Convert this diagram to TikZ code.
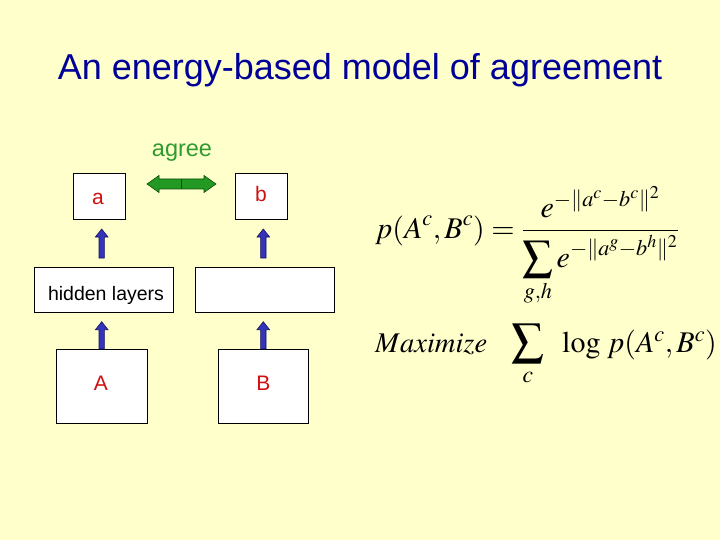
\documentclass[tikz,border=0pt]{standalone}
\usepackage{mathptmx}
\usepackage[no-math]{fontspec}
\setmainfont{Liberation Sans}
\definecolor{bg}{HTML}{FFFFCC}
\definecolor{titleblue}{HTML}{000099}
\definecolor{agreegreen}{HTML}{2E9B2E}
\definecolor{arrgreen}{HTML}{229922}
\definecolor{arrgreenline}{HTML}{0B4D0B}
\definecolor{arrblue}{HTML}{3333BB}
\definecolor{arrblueline}{HTML}{12125E}
\definecolor{lblred}{HTML}{D01010}
\tikzset{
  box/.style={draw=black, fill=white, line width=0.8pt, inner sep=0pt},
  lbl/.style={font=\fontsize{21}{25}\selectfont, text=lblred},
  bluearr/.style={fill=arrblue, draw=arrblueline, line width=0.6pt, line join=miter},
  greenarr/.style={fill=arrgreen, draw=arrgreenline, line width=0.6pt},
  formula/.style={inner sep=0pt, font=\fontsize{30}{36}\selectfont},
}
\newcommand\blockup[3]{\draw[bluearr] (#1-2.7,#2) -- (#1-2.7,#3-8) -- (#1-6.3,#3-8) -- (#1,#3) -- (#1+6.3,#3-8) -- (#1+2.7,#3-8) -- (#1+2.7,#2) -- cycle;}
\begin{document}
\begin{tikzpicture}[x=1pt,y=1pt]
\useasboundingbox[fill=bg] (0,0) rectangle (720,-540);
\node[font=\fontsize{36}{42}\selectfont, text=titleblue] (title) at (360,-70) {An energy-based model of agreement};
% boxes
\node[box, minimum width=52, minimum height=46] (a) at (99,-196) {};
\node[lbl] (alabel) at (98,-199) {a};
\node[box, minimum width=52, minimum height=46] (b) at (261,-196) {};
\node[lbl] (blabel) at (261,-194) {b};
\node[box, minimum width=139, minimum height=45] (h1) at (103.7,-290) {};
\node[font=\fontsize{19.5}{23}\selectfont] (h1label) at (106,-295) {hidden layers};
\node[box, minimum width=139, minimum height=45] (h2) at (264.8,-290) {};
\node[box, minimum width=90.6, minimum height=74] (A) at (102,-386) {};
\node[lbl] (Alabel) at (101,-383) {A};
\node[box, minimum width=90, minimum height=74] (B) at (263.3,-386) {};
\node[lbl] (Blabel) at (263.3,-383) {B};
% blue arrows
\blockup{101.7}{-258}{-229}
\blockup{263.3}{-258}{-229}
\blockup{101.7}{-349}{-321.7}
\blockup{263.3}{-349}{-321.7}
% green double arrow
\draw[greenarr] (147,-184) -- (159,-175.5) -- (159,-179) -- (204,-179) -- (204,-175.5) -- (216,-184) -- (204,-192.5) -- (204,-189) -- (159,-189) -- (159,-192.5) -- cycle;
\draw[arrgreenline, line width=0.6pt] (181.7,-179) -- (181.7,-189);
\node[font=\fontsize{23.5}{28}\selectfont, text=agreegreen] (agree) at (182,-153) {agree};
% formulas
\node[formula, anchor=base west] (f1) at (375,-238)
  {$\displaystyle p(A^c,B^c)=\frac{e^{-\|a^c-b^c\|^2}}{\displaystyle\sum_{g,h}e^{-\|a^g-b^h\|^2}}$};
\node[formula, anchor=base west, font=\fontsize{28.5}{34}\selectfont] (f2a) at (375,-352) {$Maximize$};
\node[formula, anchor=base, font=\fontsize{32}{38}\selectfont] (f2b) at (528,-352) {$\displaystyle\sum_{c}$};
\node[formula, anchor=base west] (f2c) at (562,-352) {$\log\, p(A^c,B^c)$};
\end{tikzpicture}
\end{document}
